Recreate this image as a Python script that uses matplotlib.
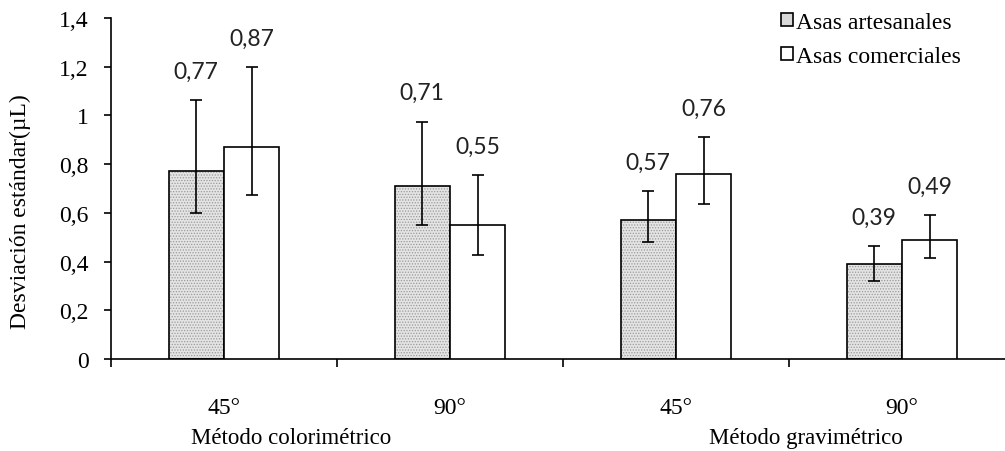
import matplotlib.pyplot as plt
from matplotlib.patches import Patch
from matplotlib.ticker import FuncFormatter

# values (desviación estándar, µL)
angles = ["45°", "90°", "45°", "90°"]
methods = ["Método colorimétrico", "Método gravimétrico"]
series = ["Asas artesanales", "Asas comerciales"]

artesanal = [0.77, 0.71, 0.57, 0.39]
artesanal_hi = [1.065, 0.975, 0.69, 0.465]
artesanal_lo = [0.60, 0.55, 0.48, 0.32]

comercial = [0.87, 0.55, 0.76, 0.49]
comercial_hi = [1.20, 0.755, 0.91, 0.59]
comercial_lo = [0.675, 0.425, 0.635, 0.415]

serif = "Liberation Serif"
plt.rcParams["font.family"] = serif
plt.rcParams["hatch.linewidth"] = 0.6

fig = plt.figure(figsize=(10.05, 4.52), dpi=100)
ax = fig.add_axes([0.1104, 0.2035, 0.8995, 0.7545])

x = list(range(len(angles)))
w = 0.245
xa = [i - w / 2 for i in x]
xc = [i + w / 2 for i in x]

# gray dotted fill, then black outline on top
ax.bar(xa, artesanal, w, color="#e4e4e4", edgecolor="#9a9a9a", hatch="......",
       linewidth=0, zorder=2)
ax.bar(xa, artesanal, w, fill=False, edgecolor="black", linewidth=1.2, zorder=3)
ax.bar(xc, comercial, w, color="white", edgecolor="black", linewidth=1.2, zorder=3)

err_a = [[v - lo for v, lo in zip(artesanal, artesanal_lo)],
         [hi - v for v, hi in zip(artesanal, artesanal_hi)]]
err_c = [[v - lo for v, lo in zip(comercial, comercial_lo)],
         [hi - v for v, hi in zip(comercial, comercial_hi)]]
ax.errorbar(xa, artesanal, yerr=err_a, fmt="none", ecolor="black",
            elinewidth=1.2, capsize=4.5, capthick=1.2, zorder=4)
ax.errorbar(xc, comercial, yerr=err_c, fmt="none", ecolor="black",
            elinewidth=1.2, capsize=4.5, capthick=1.2, zorder=4)

# value labels above the error bars
for xs, vals, tops in [(xa, artesanal, artesanal_hi), (xc, comercial, comercial_hi)]:
    for xi, v, t in zip(xs, vals, tops):
        ax.annotate(f"{v:.2f}".replace(".", ","), (xi, t), xytext=(0, 16),
                    textcoords="offset points", ha="center", va="baseline",
                    fontsize=16.5, family="Lato", color="#222222")

ax.set_xlim(-0.5, 3.5)
ax.set_ylim(0, 1.4)
ax.set_yticks([0, 0.2, 0.4, 0.6, 0.8, 1.0, 1.2, 1.4])
ax.yaxis.set_major_formatter(FuncFormatter(lambda v, p: f"{v:g}".replace(".", ",")))
ax.tick_params(axis="y", direction="out", length=5, width=1.2, labelsize=17, pad=11)

ax.set_xticks(x)
ax.set_xticklabels(angles, fontsize=17, family=serif)
ax.set_xticks([-0.5, 0.5, 1.5, 2.5], minor=True)
ax.tick_params(axis="x", which="major", length=0, pad=27)
ax.tick_params(axis="x", which="minor", direction="out", length=6, width=1.2)

for s in ["top", "right"]:
    ax.spines[s].set_visible(False)
ax.spines["left"].set_linewidth(1.2)
ax.spines["bottom"].set_linewidth(1.2)

ax.set_ylabel("Desviación estándar(µL)", fontsize=17, family=serif)
ax.yaxis.set_label_coords(-0.088, 0.434)

ax.text(0.296, -0.229, methods[0], transform=ax.get_xaxis_transform(),
        ha="center", va="center", fontsize=16.5, family=serif)
ax.text(2.575, -0.229, methods[1], transform=ax.get_xaxis_transform(),
        ha="center", va="center", fontsize=16.5, family=serif)

handles = [Patch(facecolor="#d8d8d8", edgecolor="black", linewidth=1.2),
           Patch(facecolor="white", edgecolor="black", linewidth=1.2)]
fig.legend(handles, series, loc="upper left", bbox_to_anchor=(781 / 1005, 1 - 13 / 452),
           frameon=False, prop={"family": serif, "size": 17}, handlelength=0.5,
           handleheight=0.5, handletextpad=0.15, labelspacing=0.55, borderpad=0,
           borderaxespad=0)

fig.savefig("out.png", dpi=100)
